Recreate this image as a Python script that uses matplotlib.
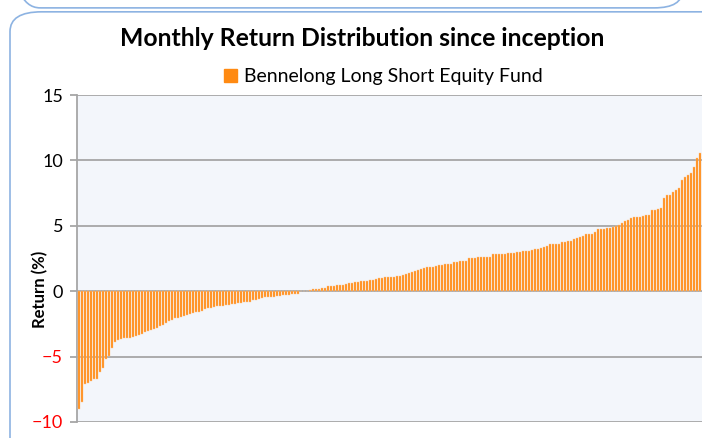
import numpy as np
import matplotlib.pyplot as plt
from matplotlib.patches import FancyBboxPatch, Patch

plt.rcParams['font.family'] = ['Lato', 'DejaVu Sans']

# Valores (retornos mensais ordenados, %)
neg_returns = [-8.97, -8.46, -7.13, -7.05, -6.90, -6.74, -6.72, -6.15, -5.90, -5.18,
               -4.95, -4.36, -3.90, -3.72, -3.64, -3.59, -3.57, -3.54, -3.49, -3.41,
               -3.33, -3.26, -3.15, -3.08, -3.00, -2.90, -2.82, -2.64, -2.55, -2.44,
               -2.31, -2.22, -2.07, -2.02, -1.94, -1.86, -1.81, -1.76, -1.68, -1.61,
               -1.56, -1.48, -1.38, -1.30, -1.25, -1.20, -1.15, -1.12, -1.10, -1.07,
               -1.05, -0.99, -0.97, -0.92, -0.89, -0.84, -0.82, -0.79, -0.71, -0.66,
               -0.59, -0.54, -0.48, -0.46, -0.43, -0.41, -0.38, -0.33, -0.31, -0.28,
               -0.26, -0.23, -0.20, -0.18]
flat_returns = [0.0, 0.0, 0.02]
pos_returns = [0.08, 0.15, 0.15, 0.17, 0.23, 0.25, 0.41, 0.41, 0.42, 0.44,
               0.46, 0.50, 0.54, 0.61, 0.66, 0.70, 0.74, 0.77, 0.77, 0.78,
               0.84, 0.88, 0.90, 1.00, 1.03, 1.05, 1.07, 1.10, 1.12, 1.15,
               1.20, 1.25, 1.33, 1.40, 1.45, 1.53, 1.60,
               1.70, 1.76, 1.86, 1.86, 1.88, 1.93, 1.98, 2.01, 2.06, 2.09,
               2.09, 2.21, 2.26, 2.32, 2.32, 2.34, 2.52, 2.52, 2.57, 2.60,
               2.62, 2.62, 2.65, 2.65, 2.82, 2.82, 2.82, 2.85, 2.85, 2.90,
               2.90, 2.90, 2.98, 3.03, 3.08, 3.08, 3.08, 3.16, 3.21, 3.23,
               3.28, 3.38, 3.49, 3.59, 3.59, 3.60, 3.64, 3.74, 3.74, 3.82,
               3.84, 3.97, 4.05, 4.17, 4.25, 4.35, 4.36, 4.40, 4.55, 4.73,
               4.73, 4.74, 4.81, 4.86, 4.94, 4.95, 5.06, 5.19,
               5.33, 5.43, 5.59, 5.64, 5.66, 5.71, 5.77, 5.79, 5.84, 6.20,
               6.22, 6.30, 6.38, 7.12, 7.32, 7.37, 7.55, 7.70, 7.91, 8.47,
               8.72, 8.85, 9.03, 9.49, 10.18, 10.59]
returns = np.array(neg_returns + flat_returns + pos_returns)

y_ticks = [-10, -5, 0, 5, 10, 15]
series_name = 'Bennelong Long Short Equity Fund'
title = 'Monthly Return Distribution since inception'

bar_color = '#FF8A12'
grid_color = '#A6A6A6'

fig = plt.figure(figsize=(7.02, 4.38), dpi=100)

# Molduras arredondadas
fig.patches.append(FancyBboxPatch((10 / 702, -0.2), 1.2, 1.173, boxstyle='round,pad=0,rounding_size=0.045',
                                  transform=fig.transFigure, fc='none', ec='#8DB3E2', lw=1.2, zorder=0))
fig.patches.append(FancyBboxPatch((12 / 702, 0.982), 0.955, 0.2, boxstyle='round,pad=0,rounding_size=0.04',
                                  transform=fig.transFigure, fc='none', ec='#8DB3E2', lw=1.2, zorder=0))

ax = fig.add_axes([77 / 702, 1 - 422 / 438, 1 - 77 / 702, (422 - 95) / 438])
ax.set_zorder(2)
ax.set_facecolor('#F3F6FB')

x = np.arange(len(returns))
ax.bar(x, returns, width=0.62, color=bar_color, edgecolor='#FFC690', linewidth=0.3, zorder=3)

ax.set_xlim(-0.6, len(returns) - 0.4)
ax.set_ylim(-10, 15)
ax.set_yticks(y_ticks)
ax.set_xticks([])
ax.yaxis.grid(True, color=grid_color, lw=1.3, zorder=1)
for s in ['top', 'right', 'bottom']:
    ax.spines[s].set_visible(False)
ax.spines['left'].set_color(grid_color)
ax.spines['left'].set_linewidth(1.3)
ax.tick_params(axis='y', length=5, width=1.3, color=grid_color, labelsize=13, pad=5)
for lbl, v in zip(ax.get_yticklabels(), y_ticks):
    lbl.set_color('red' if v < 0 else 'black')

ax.set_ylabel('Return (%)', fontsize=12, fontweight='bold')
ax.yaxis.set_label_coords(-0.046, 0.405)

fig.text(362 / 702, 1 - 38 / 438, title, ha='center', va='center', fontsize=17.8, fontweight='bold')
ax.legend(handles=[Patch(color=bar_color, label=series_name)], loc='lower center',
          bbox_to_anchor=(0.49, 1.0), frameon=False, fontsize=14, handlelength=0.65,
          handleheight=0.65, handletextpad=0.35, borderaxespad=0.1)

plt.savefig('out.png', dpi=100)
